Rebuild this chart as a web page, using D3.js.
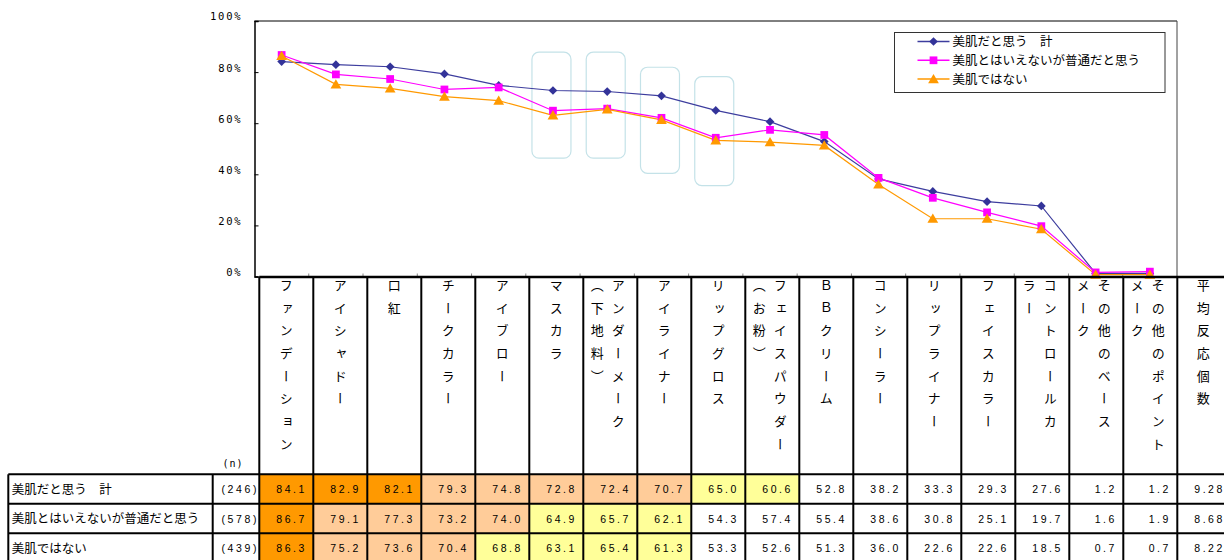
<!DOCTYPE html>
<html>
<head>
<meta charset="utf-8">
<script src="https://cdn.jsdelivr.net/npm/d3@7"></script>
<style>
  html, body { margin: 0; padding: 0; background: #fff; }
  svg { display: block; }
</style>
</head>
<body>
<svg id="chart" width="1224" height="560"></svg>
<script>
// ---------------- DATA ----------------
const categories = ["ファンデーション","アイシャドー","口紅","チークカラー","アイブロー","マスカラ",
  "アンダーメーク（下地料）","アイライナー","リップグロス","フェイスパウダー（お粉）","ＢＢクリーム",
  "コンシーラー","リップライナー","フェイスカラー","コントロールカラー","その他のベースメーク","その他のポイントメーク"];
const headerLines = [["ファンデーション"],["アイシャドー"],["口紅"],["チークカラー"],["アイブロー"],["マスカラ"],
  ["アンダーメーク","（下地料）"],["アイライナー"],["リップグロス"],["フェイスパウダー","（お粉）"],["ＢＢクリーム"],
  ["コンシーラー"],["リップライナー"],["フェイスカラー"],["コントロールカ","ラー"],["その他のベース","メーク"],
  ["その他のポイント","メーク"]];
const averageLabel = "平均反応個数";
const seriesNames = ["美肌だと思う　計","美肌とはいえないが普通だと思う","美肌ではない"];
const sampleSizes = ["(246)","(578)","(439)"];
const seriesA = [84.1,82.9,82.1,79.3,74.8,72.8,72.4,70.7,65.0,60.6,52.8,38.2,33.3,29.3,27.6,1.2,1.2];
const seriesB = [86.7,79.1,77.3,73.2,74.0,64.9,65.7,62.1,54.3,57.4,55.4,38.6,30.8,25.1,19.7,1.6,1.9];
const seriesC = [86.3,75.2,73.6,70.4,68.8,63.1,65.4,61.3,53.3,52.6,51.3,36.0,22.6,22.6,18.5,0.7,0.7];
const averages = ["9.28","8.68","8.22"];
const yTicks = [0,20,40,60,80,100];
// highlighted categories with value range of the rounded frame (%)
const highlightCats = ["マスカラ","アンダーメーク（下地料）","アイライナー","リップグロス"];
const highlightTop = [87.8,87.8,81.9,78.2];
const highlightBottom = [46.3,46.3,40.4,35.6];

// ---------------- LAYOUT ----------------
const svg = d3.select("#chart");
const JP = "'Noto Sans CJK JP','Noto Sans',sans-serif";
const MONO = "'DejaVu Sans Mono','Liberation Mono',monospace";
const NUM = "'Liberation Sans','Arimo',sans-serif";

const plot = {left: 254.5, right: 1177, top: 21, bottom: 276.5};
const x = d3.scaleBand().domain(categories).range([plot.left, plot.right]);
const y = d3.scaleLinear().domain([0,100]).range([plot.bottom, plot.top]);
const cx = c => x(c) + x.bandwidth()/2;

const series = [
  {name: seriesNames[0], values: seriesA, color: "#333399", line: "#3d3d9e", shape: d3.symbolSquare, size: 38, rot: 45, dy: 0},
  {name: seriesNames[1], values: seriesB, color: "#FF00FF", line: "#FF00FF", shape: d3.symbolSquare, size: 60, rot: 0, dy: 0},
  {name: seriesNames[2], values: seriesC, color: "#FF9900", line: "#FF9900", shape: d3.symbolTriangle, size: 50, rot: 0, dy: 1}
];

// plot frame
svg.append("line").attr("x1", plot.left).attr("x2", plot.right).attr("y1", plot.top).attr("y2", plot.top)
  .attr("stroke", "#000").attr("stroke-width", 1);
svg.append("line").attr("x1", plot.right).attr("x2", plot.right).attr("y1", plot.top).attr("y2", plot.bottom)
  .attr("stroke", "#444").attr("stroke-width", 1);

// highlight frames
highlightCats.forEach((c, i) => {
  svg.append("rect")
    .attr("x", cx(c) - 21).attr("width", 39)
    .attr("y", y(highlightTop[i])).attr("height", y(highlightBottom[i]) - y(highlightTop[i]))
    .attr("rx", 7).attr("ry", 7)
    .attr("fill", "none").attr("stroke", "#c4e2e8").attr("stroke-width", 1.2);
});

// y axis
const yAxis = d3.axisLeft(y).tickValues(yTicks).tickFormat(d => d + "%").tickSize(-4).tickPadding(12);
const gy = svg.append("g").attr("transform", `translate(${plot.left},0)`).call(yAxis);
gy.select(".domain").attr("stroke", "#000").attr("stroke-width", 1.5);
gy.selectAll(".tick line").attr("stroke", "#000");
gy.selectAll(".tick text").attr("font-family", MONO).attr("font-size", 10.5).attr("fill", "#000")
  .style("letter-spacing", "1.8px").attr("dy", "-0.1em");

// x axis (ticks only)
const xAxis = d3.axisBottom(x).tickSize(0).tickFormat("");
const gx = svg.append("g").attr("transform", `translate(0,${plot.bottom})`).call(xAxis);
gx.select(".domain").attr("stroke", "#000").attr("stroke-width", 1);
gx.selectAll(".xtick").data(categories.slice(1)).enter().append("line")
  .attr("x1", c => x(c)).attr("x2", c => x(c)).attr("y1", -3).attr("y2", 0)
  .attr("stroke", "#888");

// lines and markers
series.forEach(s => {
  const lineGen = d3.line().x((d, i) => cx(categories[i])).y(d => y(d));
  svg.append("path").datum(s.values).attr("d", lineGen)
    .attr("fill", "none").attr("stroke", s.line).attr("stroke-width", 1.2);
});
series.forEach(s => {
  svg.append("g").selectAll("path").data(s.values).enter().append("path")
    .attr("d", d3.symbol().type(s.shape).size(s.size))
    .attr("transform", (d, i) => `translate(${cx(categories[i])},${y(d) + s.dy}) rotate(${s.rot})`)
    .attr("fill", s.color);
});

// legend
const lg = {x: 894.5, y: 32.5, w: 270.5, h: 60};
svg.append("rect").attr("x", lg.x).attr("y", lg.y).attr("width", lg.w).attr("height", lg.h)
  .attr("fill", "#fff").attr("stroke", "#333").attr("stroke-width", 1);
series.forEach((s, i) => {
  const ly = lg.y + 9 + i * 18.8;
  svg.append("line").attr("x1", lg.x + 23).attr("x2", lg.x + 55).attr("y1", ly).attr("y2", ly)
    .attr("stroke", s.line).attr("stroke-width", 1.5);
  svg.append("path").attr("d", d3.symbol().type(s.shape).size(s.size))
    .attr("transform", `translate(${lg.x + 39},${ly + s.dy}) rotate(${s.rot})`).attr("fill", s.color);
  svg.append("text").attr("x", lg.x + 58).attr("y", ly + 4.5).text(s.name)
    .attr("font-family", JP).attr("font-size", 12.5).attr("fill", "#000");
});

// ---------------- TABLE ----------------
const tableCols = categories.concat([averageLabel]);
const tx = d3.scaleBand().domain(tableCols).range([259.3, 259.3 + 54 * tableCols.length]);
const tableTop = 277;
const headBottom = 474.3;
const rowH = 29.5;
const labelLeft = 8.3, labelRight = 212.7, nRight = 259.3;
const fillColor = v => v >= 80 ? "#FF9900" : v >= 70 ? "#FFCC99" : v >= 60 ? "#FFFF99" : "#FFFFFF";
const rows = [seriesA, seriesB, seriesC];

// cell fills
rows.forEach((vals, r) => {
  svg.append("g").selectAll("rect").data(vals).enter().append("rect")
    .attr("x", (d, i) => tx(categories[i])).attr("width", tx.bandwidth())
    .attr("y", headBottom + r * rowH).attr("height", rowH)
    .attr("fill", d => fillColor(d));
});

// header vertical text
headerLines.forEach((lines, i) => {
  const c = tx(categories[i]) + tx.bandwidth() / 2;
  lines.forEach((ln, j) => {
    const off = lines.length === 1 ? 0 : (j === 0 ? 8 : -13);
    svg.append("text").attr("x", c + off).attr("y", 278.5)
      .style("writing-mode", "vertical-rl").style("text-orientation", "upright")
      .style("letter-spacing", "9.7px")
      .attr("font-family", JP).attr("font-size", 13).attr("fill", "#000").text(ln);
  });
});
svg.append("text").attr("x", tx(averageLabel) + tx.bandwidth() / 2 - 1).attr("y", 278.5)
  .style("writing-mode", "vertical-rl").style("text-orientation", "upright")
  .style("letter-spacing", "9.7px")
  .attr("font-family", JP).attr("font-size", 13).attr("fill", "#000").text(averageLabel);

// (n)
svg.append("text").attr("x", 233).attr("y", 467).attr("text-anchor", "middle").text("(n)")
  .attr("font-family", MONO).attr("font-size", 10).style("letter-spacing", "1px").attr("fill", "#000");

// rows
rows.forEach((vals, r) => {
  const cy = headBottom + r * rowH + rowH / 2 + 4;
  svg.append("text").attr("x", 11.7).attr("y", cy + 0.5).text(seriesNames[r])
    .attr("font-family", JP).attr("font-size", 12.5).attr("fill", "#000");
  svg.append("text").attr("x", 259).attr("y", cy).attr("text-anchor", "end").text(sampleSizes[r])
    .attr("font-family", NUM).attr("font-size", 10.5).style("letter-spacing", "2.6px").attr("fill", "#000");
  svg.append("g").selectAll("text").data(vals).enter().append("text")
    .attr("x", (d, i) => tx(categories[i]) + tx.bandwidth() - 6.5)
    .attr("y", cy).attr("text-anchor", "end")
    .text(d => d.toFixed(1))
    .attr("font-family", NUM).attr("font-size", 10.5).style("letter-spacing", "2.5px").attr("fill", "#000");
  svg.append("text").attr("x", tx(averageLabel) + tx.bandwidth() - 6.5).attr("y", cy).attr("text-anchor", "end")
    .text(averages[r])
    .attr("font-family", NUM).attr("font-size", 10.5).style("letter-spacing", "2.5px").attr("fill", "#000");
});

// table lines
const L = svg.append("g").attr("stroke", "#000").attr("stroke-width", 2);
L.append("line").attr("x1", nRight).attr("x2", 1224).attr("y1", tableTop).attr("y2", tableTop).attr("stroke-width", 2.5);
[0,1,2,3].forEach(r => {
  L.append("line").attr("x1", labelLeft).attr("x2", 1224)
    .attr("y1", headBottom + r * rowH).attr("y2", headBottom + r * rowH);
});
tableCols.forEach(c => {
  L.append("line").attr("x1", tx(c)).attr("x2", tx(c)).attr("y1", tableTop).attr("y2", 560);
});
[labelLeft, labelRight].forEach(xx => {
  L.append("line").attr("x1", xx).attr("x2", xx).attr("y1", headBottom).attr("y2", 560);
});
</script>
</body>
</html>
